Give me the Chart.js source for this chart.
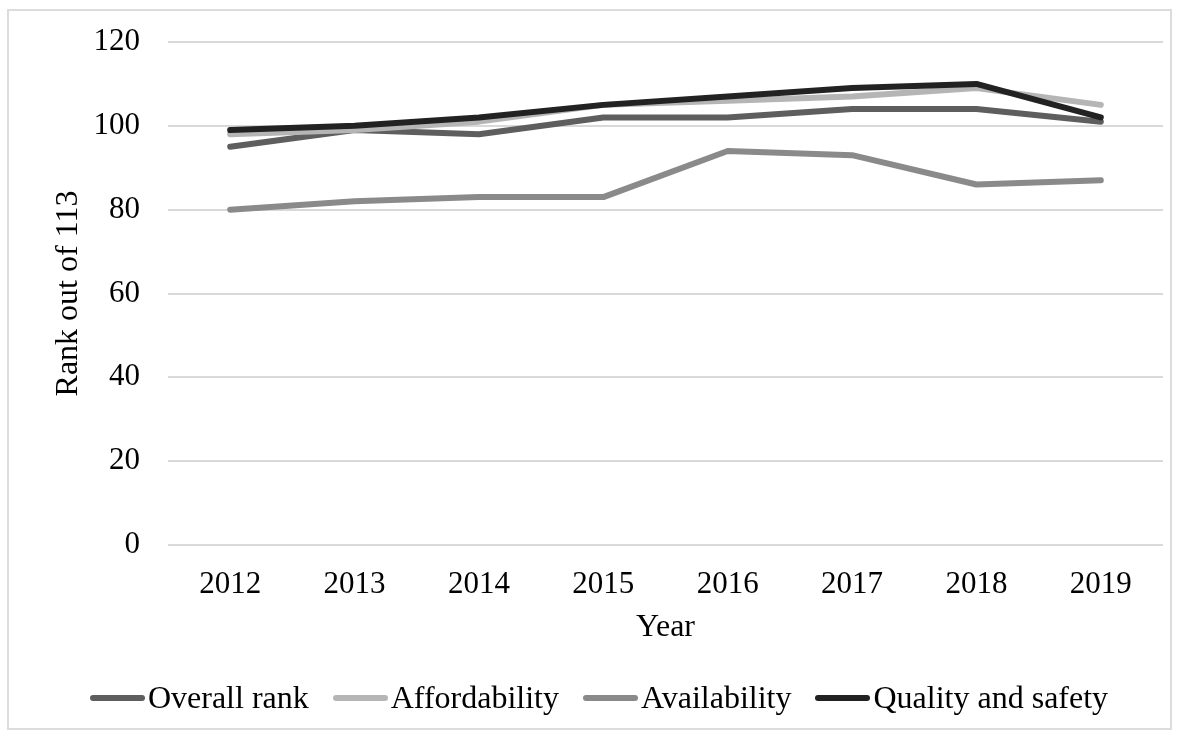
<!DOCTYPE html>
<html>
<head>
<meta charset="utf-8">
<script src="https://cdn.jsdelivr.net/npm/chart.js@4"></script>
<style>
  html, body { margin: 0; padding: 0; background: #fff; }
  #wrap { position: relative; width: 1178px; height: 736px; overflow: hidden; }
  #frame { position: absolute; left: 7px; top: 9px; width: 1161px; height: 717px; border: 2px solid #dcdcdc; }
  #chart { position: absolute; left: 0; top: 0; }
  #legend { position: absolute; left: 0; width: 1178px; top: 679px; display: flex; justify-content: center;
            font-family: "Liberation Serif", "Times New Roman", serif; font-size: 32px; color: #000; padding-left: 20px; box-sizing: border-box; }
  .item { display: flex; align-items: center; margin: 0 12px; white-space: nowrap; }
  .swatch { width: 55px; height: 6px; border-radius: 3px; margin-right: 3px; }
</style>
</head>
<body>
<div id="wrap">
  <div id="frame"></div>
  <canvas id="chart" width="1178" height="736"></canvas>
  <div id="legend"></div>
</div>
<script>
// Years on the horizontal axis
const years = ["2012", "2013", "2014", "2015", "2016", "2017", "2018", "2019"];

// Rank out of 113 for each indicator
const overallRank  = [95, 99, 98, 102, 102, 104, 104, 101];
const affordability = [98, 99, 101, 105, 106, 107, 109, 105];
const availability  = [80, 82, 83, 83, 94, 93, 86, 87];
const qualitySafety = [99, 100, 102, 105, 107, 109, 110, 102];

const seriesNames = ["Overall rank", "Affordability", "Availability", "Quality and safety"];
const seriesColors = ["#5e5e5e", "#b5b5b5", "#8a8a8a", "#222222"];

// Y-axis tick range
const yMin = 0, yMax = 120, yStep = 20;

const serif = "'Liberation Serif', 'Times New Roman', serif";
const seriesData = [overallRank, affordability, availability, qualitySafety];

const datasets = seriesData.map((vals, i) => ({
  label: seriesNames[i],
  data: vals,
  borderColor: seriesColors[i],
  backgroundColor: seriesColors[i],
  borderWidth: 6,
  borderCapStyle: "round",
  borderJoinStyle: "round",
  pointRadius: 0,
  pointHoverRadius: 0,
  tension: 0,
  fill: false,
  order: seriesData.length - i   // later series drawn on top
}));

new Chart(document.getElementById("chart"), {
  type: "line",
  data: { labels: years, datasets },
  options: {
    responsive: false,
    animation: false,
    devicePixelRatio: 1,
    layout: { padding: { left: 0, right: 15, top: 42, bottom: 86 } },
    plugins: { legend: { display: false }, tooltip: { enabled: false } },
    scales: {
      x: {
        offset: true,
        grid: { display: false },
        border: { display: false },
        ticks: { color: "#000", font: { family: serif, size: 31 }, padding: 13, maxRotation: 0 },
        title: { display: true, text: "Year", color: "#000", font: { family: serif, size: 32 }, padding: { top: 0, bottom: 3 } },
        afterFit: (s) => { s.height = 105; }
      },
      y: {
        min: yMin, max: yMax,
        grid: { color: "#d9d9d9", lineWidth: 2, drawTicks: false },
        border: { display: false },
        ticks: { stepSize: yStep, color: "#000", font: { family: serif, size: 31 }, padding: 28 },
        title: { display: true, text: "Rank out of 113", color: "#000", font: { family: serif, size: 32 }, padding: { top: 49, bottom: 0 } },
        afterFit: (s) => { s.width = 168; s.paddingTop = 0; s.paddingBottom = 0; }
      }
    }
  }
});

// Legend row under the chart
const legend = document.getElementById("legend");
seriesNames.forEach((name, i) => {
  const item = document.createElement("div");
  item.className = "item";
  const sw = document.createElement("span");
  sw.className = "swatch";
  sw.style.background = seriesColors[i];
  const txt = document.createElement("span");
  txt.textContent = name;
  item.appendChild(sw);
  item.appendChild(txt);
  legend.appendChild(item);
});
</script>
</body>
</html>
